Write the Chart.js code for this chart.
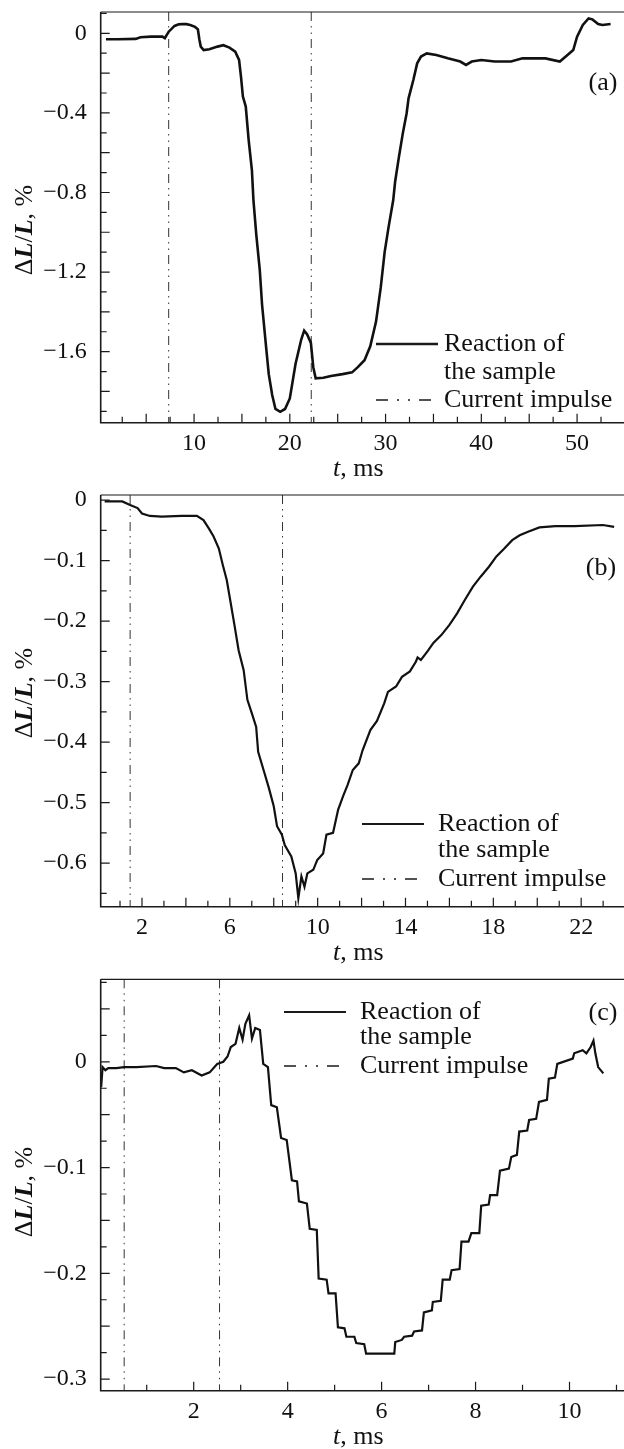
<!DOCTYPE html>
<html>
<head>
<meta charset="utf-8">
<script src="https://cdn.jsdelivr.net/npm/chart.js@4.4.0/dist/chart.umd.min.js"></script>
<style>
  html, body { margin: 0; padding: 0; background: #fff; }
  body { width: 624px; height: 1449px; position: relative; overflow: hidden; }
  .panel { position: absolute; left: 0; width: 624px; height: 483px; }
</style>
</head>
<body>
<div class="panel" style="top:0"><canvas id="chartA" width="624" height="483"></canvas></div>
<div class="panel" style="top:483px"><canvas id="chartB" width="624" height="483"></canvas></div>
<div class="panel" style="top:966px"><canvas id="chartC" width="624" height="483"></canvas></div>
<script>
// (a) t, ms  /  dL/L, %
var timeA = [0.8, 2.0, 3.9, 4.4, 5.5, 6.7, 6.95, 7.35, 7.7, 7.96, 8.4, 8.8, 9.2, 9.6, 10.1, 10.4, 10.55,
  10.7, 11.0, 11.6, 12.45, 13.06, 13.7, 14.3, 14.7, 14.9, 15.1, 15.4, 15.7, 16.04, 16.2, 16.5, 16.86,
  17.1, 17.55, 17.8, 18.16, 18.5, 19.0, 19.5, 20.0, 20.6, 21.2, 21.5, 21.8, 22.2, 22.45, 22.7, 23.5,
  24.3, 25.5, 26.5, 27.1, 27.8, 28.4, 29.0, 29.5, 29.9, 30.3, 30.8, 31.0, 31.4, 31.8, 32.2, 32.4, 32.9,
  33.3, 33.7, 34.3, 35.3, 36.5, 37.8, 38.4, 39.0, 40.0, 41.4, 43.1, 44.3, 46.7, 48.2, 49.0, 49.6, 50.0,
  50.6, 51.2, 51.6, 52.2, 52.65, 53.5];
var reactionA = [-0.030, -0.030, -0.028, -0.020, -0.017, -0.017, -0.025, 0.008, 0.025, 0.037, 0.045,
  0.047, 0.046, 0.042, 0.032, 0.020, -0.030, -0.067, -0.084, -0.080, -0.067, -0.060, -0.072, -0.092,
  -0.134, -0.218, -0.318, -0.368, -0.536, -0.687, -0.838, -1.013, -1.188, -1.363, -1.590, -1.713,
  -1.818, -1.888, -1.902, -1.888, -1.835, -1.661, -1.538, -1.494, -1.512, -1.556, -1.678, -1.734,
  -1.731, -1.722, -1.713, -1.704, -1.678, -1.643, -1.573, -1.450, -1.276, -1.101, -0.978, -0.838,
  -0.745, -0.620, -0.503, -0.402, -0.327, -0.235, -0.151, -0.117, -0.101, -0.109, -0.126, -0.142,
  -0.159, -0.142, -0.134, -0.142, -0.142, -0.126, -0.126, -0.142, -0.109, -0.084, -0.017, 0.042,
  0.075, 0.070, 0.047, 0.042, 0.047];
var pulseA = [7.35, 22.24];

// (b)
var timeB = [0.3, 1.1, 1.46, 1.8, 2.0, 2.36, 2.9, 3.8, 4.5, 4.8, 5.05, 5.26, 5.5, 5.68, 5.86, 6.04, 6.2,
  6.4, 6.63, 6.8, 7.0, 7.2, 7.29, 7.56, 7.78, 8.0, 8.15, 8.37, 8.5, 8.8, 9.0, 9.12, 9.26, 9.4, 9.53,
  9.8, 9.98, 10.25, 10.4, 10.7, 10.93, 11.15, 11.36, 11.6, 11.87, 12.05, 12.4, 12.7, 13.03, 13.2,
  13.57, 13.84, 14.2, 14.47, 14.55, 14.7, 15.0, 15.27, 15.63, 16.0, 16.35, 16.7, 17.07, 17.43, 17.8,
  18.14, 18.5, 18.86, 19.2, 19.58, 20.1, 20.83, 21.7, 22.99, 23.5];
var reactionB = [-0.002, -0.002, -0.008, -0.013, -0.022, -0.026, -0.027, -0.026, -0.026, -0.033,
  -0.047, -0.060, -0.080, -0.107, -0.132, -0.170, -0.204, -0.248, -0.281, -0.330, -0.352, -0.375,
  -0.416, -0.449, -0.476, -0.506, -0.539, -0.553, -0.570, -0.589, -0.617, -0.658, -0.622, -0.639,
  -0.617, -0.611, -0.595, -0.584, -0.553, -0.550, -0.512, -0.490, -0.471, -0.446, -0.435, -0.413,
  -0.380, -0.365, -0.336, -0.317, -0.308, -0.292, -0.283, -0.267, -0.260, -0.264, -0.250, -0.236,
  -0.223, -0.206, -0.187, -0.165, -0.143, -0.126, -0.110, -0.093, -0.080, -0.066, -0.058, -0.052,
  -0.045, -0.043, -0.043, -0.041, -0.044];
var pulseB = [1.46, 8.4];

// (c)
var timeC = [0.03, 0.06, 0.12, 0.18, 0.35, 0.52, 0.78, 1.2, 1.37, 1.62, 1.79, 1.96, 2.17, 2.34, 2.5,
  2.63, 2.72, 2.79, 2.89, 2.97, 3.04, 3.1, 3.18, 3.24, 3.31, 3.41, 3.48, 3.58, 3.65, 3.77, 3.86, 3.98,
  4.09, 4.2, 4.24, 4.41, 4.47, 4.62, 4.66, 4.83, 4.87, 5.02, 5.07, 5.21, 5.25, 5.42, 5.46, 5.63, 5.67,
  6.27, 6.29, 6.43, 6.48, 6.65, 6.69, 6.86, 6.9, 7.07, 7.09, 7.26, 7.3, 7.45, 7.49, 7.66, 7.7, 7.85,
  7.91, 8.08, 8.12, 8.28, 8.31, 8.46, 8.52, 8.71, 8.76, 8.88, 8.93, 9.1, 9.14, 9.29, 9.35, 9.52, 9.56,
  9.69, 9.74, 10.07, 10.1, 10.28, 10.36, 10.45, 10.51, 10.55, 10.61, 10.72];
var reactionC = [-0.024, -0.005, -0.008, -0.006, -0.006, -0.005, -0.005, -0.004, -0.006, -0.006,
  -0.010, -0.008, -0.013, -0.010, -0.002, 0.000, 0.005, 0.014, 0.017, 0.032, 0.021, 0.036, 0.044,
  0.022, 0.032, 0.030, -0.002, -0.005, -0.041, -0.043, -0.072, -0.074, -0.112, -0.113, -0.132, -0.134,
  -0.158, -0.159, -0.205, -0.206, -0.219, -0.219, -0.251, -0.252, -0.260, -0.260, -0.266, -0.267,
  -0.276, -0.276, -0.265, -0.263, -0.260, -0.259, -0.255, -0.254, -0.237, -0.235, -0.227, -0.226,
  -0.206, -0.206, -0.197, -0.196, -0.170, -0.170, -0.162, -0.162, -0.136, -0.135, -0.126, -0.126,
  -0.103, -0.101, -0.090, -0.088, -0.066, -0.065, -0.055, -0.054, -0.038, -0.036, -0.016, -0.015,
  -0.002, 0.003, 0.008, 0.011, 0.008, 0.014, 0.020, 0.008, -0.005, -0.011];
var pulseC = [0.52, 2.55];

var legendLines = ['Reaction of', 'the sample', 'Current impulse'];

var serif = '"Liberation Serif", "Times New Roman", serif';

function isMult(v, s) {
  var q = v / s;
  return Math.abs(q - Math.round(q)) < 1e-6;
}

function fmtY(v) {
  if (Math.abs(v) < 1e-9) return '0';
  return (v < 0 ? '\u2212' : '') + Math.abs(v).toFixed(1);
}

// draws text pieces (different styles) centred on 0,0
function drawPieces(ctx, pieces) {
  var total = 0;
  pieces.forEach(function (p) { ctx.font = p[1]; total += ctx.measureText(p[0]).width; });
  var x = -total / 2;
  pieces.forEach(function (p) {
    ctx.font = p[1];
    ctx.fillText(p[0], x, 0);
    x += ctx.measureText(p[0]).width;
  });
}

var framePlugin = {
  id: 'frame',
  afterDraw: function (chart, args, o) {
    var ctx = chart.ctx, ca = chart.chartArea;
    var xs = chart.scales.x, ys = chart.scales.y;
    ctx.save();
    ctx.strokeStyle = '#1a1a1a';
    ctx.fillStyle = '#111';

    // box: top, left, bottom
    ctx.lineWidth = 1.2;
    ctx.beginPath();
    ctx.moveTo(ca.left, ca.top); ctx.lineTo(ca.right, ca.top);
    ctx.stroke();
    ctx.lineWidth = 1.6;
    ctx.beginPath();
    ctx.moveTo(ca.left, ca.top); ctx.lineTo(ca.left, ca.bottom); ctx.lineTo(ca.right, ca.bottom);
    ctx.stroke();

    // inward ticks
    ctx.lineWidth = 1.2;
    ctx.beginPath();
    xs.ticks.forEach(function (t) {
      var px = xs.getPixelForValue(t.value);
      var len = isMult(t.value, o.xMajor) ? 9 : 6;
      ctx.moveTo(px, ca.bottom); ctx.lineTo(px, ca.bottom - len);
    });
    ys.ticks.forEach(function (t) {
      var py = ys.getPixelForValue(t.value);
      var len = isMult(t.value, o.yMajor) ? 9 : 6;
      ctx.moveTo(ca.left, py); ctx.lineTo(ca.left + len, py);
    });
    ctx.stroke();

    // axis titles
    ctx.textBaseline = 'middle';
    ctx.textAlign = 'left';
    ctx.save();
    ctx.translate((ca.left + ca.right) / 2 - 4, ca.bottom + 46);
    drawPieces(ctx, [['t', 'italic 26px ' + serif], [', ms', '26px ' + serif]]);
    ctx.restore();

    ctx.save();
    ctx.translate(25, o.yTitleY);
    ctx.rotate(-Math.PI / 2);
    drawPieces(ctx, [['\u0394', '26px ' + serif], ['L', 'italic bold 26px ' + serif],
      ['/', '26px ' + serif], ['L', 'italic bold 26px ' + serif], [', %', '26px ' + serif]]);
    ctx.restore();

    // panel letter
    ctx.font = '26px ' + serif;
    ctx.textAlign = 'center';
    ctx.fillText(o.letter, o.letterX, o.letterY);

    // legend
    var lg = o.legend;
    ctx.lineWidth = o.lineW;
    ctx.beginPath();
    ctx.moveTo(lg[0], lg[3]); ctx.lineTo(lg[1], lg[3]);
    ctx.stroke();
    ctx.lineWidth = 1.3;
    ctx.setLineDash([12, 9, 2, 9, 2, 9]);
    ctx.beginPath();
    ctx.moveTo(lg[0], lg[5]); ctx.lineTo(lg[0] + 55, lg[5]);
    ctx.stroke();
    ctx.setLineDash([]);
    ctx.textAlign = 'left';
    ctx.fillText(legendLines[0], lg[2], lg[3]);
    ctx.fillText(legendLines[1], lg[2], lg[4]);
    ctx.fillText(legendLines[2], lg[2], lg[5]);
    ctx.restore();
  }
};

function makeChart(id, times, values, pulses, s) {
  var reaction = times.map(function (t, i) { return { x: t, y: values[i] }; });
  var impulse = [];
  pulses.forEach(function (t, i) {
    if (i > 0) impulse.push({ x: t, y: null });
    impulse.push({ x: t, y: s.yMax }, { x: t, y: s.yMin });
  });

  return new Chart(document.getElementById(id), {
    type: 'line',
    data: {
      datasets: [{
        label: 'Reaction of the sample',
        data: reaction,
        borderColor: '#111',
        borderWidth: s.lineW,
        pointRadius: 0,
        tension: 0
      }, {
        label: 'Current impulse',
        data: impulse,
        borderColor: '#333',
        borderWidth: 1,
        borderDash: [9, 5, 1.5, 5, 1.5, 5],
        pointRadius: 0,
        spanGaps: false
      }]
    },
    options: {
      responsive: false,
      animation: false,
      events: [],
      layout: { padding: { top: s.padTop, left: 0, right: 0, bottom: 0 } },
      plugins: {
        legend: { display: false },
        tooltip: { enabled: false },
        frame: {
          xMajor: s.xMajor, yMajor: s.yMajor, yTitleY: s.yTitleY,
          letter: s.letter, letterX: s.letterX, letterY: s.letterY,
          legend: s.legend, lineW: s.lineW
        }
      },
      scales: {
        x: {
          type: 'linear',
          min: s.xMin, max: s.xMax,
          grid: { display: false, drawTicks: false },
          border: { display: false },
          ticks: {
            stepSize: s.xStep, autoSkip: false, maxRotation: 0, minRotation: 0,
            includeBounds: false, padding: 7, color: '#111',
            font: { family: serif, size: 24 },
            callback: function (v) {
              return isMult(v - s.xLabelFrom, s.xLabelStep) ? String(Math.round(v)) : '';
            }
          },
          afterFit: function (sc) { sc.height = s.xAxisH; sc.paddingLeft = 0; sc.paddingRight = 0; }
        },
        y: {
          min: s.yMin, max: s.yMax,
          grid: { display: false, drawTicks: false },
          border: { display: false },
          ticks: {
            stepSize: s.yStep, autoSkip: false, includeBounds: false, padding: 14, color: '#111',
            font: { family: serif, size: 24 },
            callback: function (v) { return isMult(v, s.yLabelStep) ? fmtY(v) : ''; }
          },
          afterFit: function (sc) { sc.width = 100.7; sc.paddingTop = 0; sc.paddingBottom = 0; }
        }
      }
    },
    plugins: [framePlugin]
  });
}

makeChart('chartA', timeA, reactionA, pulseA, {
  xMin: 0.25, xMax: 54.9, xStep: 2.5, xMajor: 5, xLabelFrom: 10, xLabelStep: 10,
  yMin: -1.957, yMax: 0.107, yStep: 0.1, yMajor: 0.2, yLabelStep: 0.4,
  padTop: 12, xAxisH: 60.3, lineW: 2.6, yTitleY: 230,
  letter: '(a)', letterX: 603, letterY: 83,
  legend: [376, 438, 444, 344, 372, 400]
});

makeChart('chartB', timeB, reactionB, pulseB, {
  xMin: 0.12, xMax: 23.95, xStep: 1, xMajor: 2, xLabelFrom: 2, xLabelStep: 4,
  yMin: -0.672, yMax: 0.0086, yStep: 0.05, yMajor: 0.1, yLabelStep: 0.1,
  padTop: 12, xAxisH: 59.3, lineW: 2.2, yTitleY: 210,
  letter: '(b)', letterX: 601, letterY: 85,
  legend: [362, 424, 438, 341, 367, 396]
});

makeChart('chartC', timeC, reactionC, pulseC, {
  xMin: 0.02, xMax: 11.16, xStep: 1, xMajor: 2, xLabelFrom: 2, xLabelStep: 2,
  yMin: -0.311, yMax: 0.078, yStep: 0.025, yMajor: 0.05, yLabelStep: 0.1,
  padTop: 13.3, xAxisH: 58.3, lineW: 2.2, yTitleY: 226,
  letter: '(c)', letterX: 603, letterY: 47,
  legend: [284, 346, 360, 46, 71, 100]
});
</script>
</body>
</html>
